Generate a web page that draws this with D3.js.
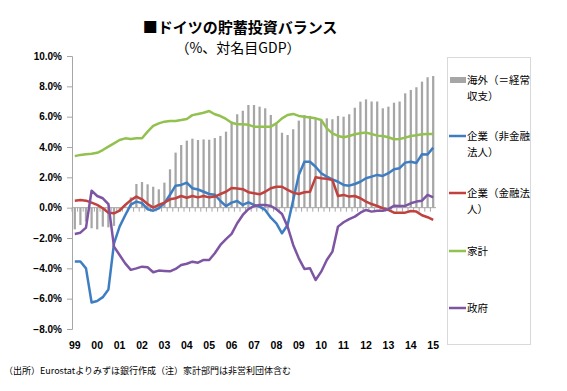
<!DOCTYPE html>
<html>
<head>
<meta charset="utf-8">
<script src="https://cdn.jsdelivr.net/npm/d3@7"></script>
<style>
  body { margin: 0; background: #fff; }
  text { font-family: "Noto Sans CJK JP", sans-serif; }
</style>
</head>
<body>
<div id="chart"></div>
<script>
// quarterly, 1999Q1 - 2015Q1, % of nominal GDP
const years = ["99", "00", "01", "02", "03", "04", "05", "06", "07", "08", "09", "10", "11", "12", "13", "14", "15"];
const yTicks = [-8, -6, -4, -2, 0, 2, 4, 6, 8, 10];

const external = [
  -1.43, -1.14, -0.92, -1.36, -1.43, -1.25, -1.3, -1.2, -0.26, 0.1,
  0.68, 1.56, 1.69, 1.54, 1.38, 1.21, 1.65, 2.53, 3.63, 4.13,
  4.42, 4.55, 4.46, 4.5, 4.48, 4.59, 4.73, 5.01, 5.67, 6.16,
  6.39, 6.77, 6.77, 6.66, 6.55, 6.11, 5.56, 4.94, 4.79, 5.17,
  5.74, 6.11, 6.05, 5.89, 5.83, 5.89, 5.83, 6.05, 6.0, 6.16,
  6.59, 6.99, 7.14, 7.0, 7.0, 6.55, 6.66, 6.92, 7.0, 7.54,
  7.76, 7.94, 8.31, 8.6, 8.68
];
const nonFinancial = [
  -3.55, -3.55, -4.0, -6.25, -6.15, -5.9, -5.4, -2.35, -1.25, -0.5,
  0.2, 0.4, 0.3, -0.1, -0.2, -0.05, 0.3, 0.85, 1.45, 1.5,
  1.65, 1.28, 1.2, 1.05, 0.9, 0.85, 0.44, 0.1, 0.33, 0.44,
  0.18, 0.35, 0.18, 0.07, -0.15, -0.66, -1.03, -1.69, -1.14, 0.5,
  2.15, 3.03, 3.03, 2.7, 2.27, 2.05, 1.87, 1.71, 1.5, 1.45,
  1.56, 1.71, 1.94, 2.05, 2.16, 2.09, 2.27, 2.53, 2.6, 2.97,
  3.03, 2.95, 3.52, 3.5, 3.96
];
const financial = [
  0.46, 0.5, 0.46, 0.33, 0.18, -0.04, -0.33, -0.37, -0.2, 0.18,
  0.5, 0.73, 0.55, 0.24, 0.0, 0.18, 0.33, 0.55, 0.62, 0.77,
  0.65, 0.77, 0.68, 0.77, 0.68, 0.73, 0.9, 1.05, 1.3, 1.26,
  1.22, 1.02, 0.95, 0.88, 1.05, 1.28, 1.38, 1.38, 1.17, 0.99,
  0.9, 1.02, 1.05, 2.0, 1.94, 1.9, 1.82, 0.77, 0.84, 0.73,
  0.77, 0.62, 0.4, 0.24, 0.11, -0.04, -0.15, -0.33, -0.33, -0.33,
  -0.22, -0.26, -0.5, -0.63, -0.81
];
const households = [
  3.4, 3.48, 3.52, 3.55, 3.62, 3.8, 4.02, 4.24, 4.46, 4.57,
  4.53, 4.57, 4.58, 5.01, 5.39, 5.56, 5.67, 5.72, 5.72, 5.78,
  5.85, 6.1, 6.18, 6.26, 6.37, 6.16, 6.04, 5.85, 5.6, 5.5,
  5.5, 5.46, 5.34, 5.34, 5.34, 5.34, 5.56, 5.89, 6.11, 6.18,
  6.05, 6.0, 5.95, 5.89, 5.78, 5.23, 4.9, 4.73, 4.64, 4.73,
  4.84, 4.9, 4.95, 4.86, 4.75, 4.73, 4.64, 4.51, 4.53, 4.62,
  4.73, 4.77, 4.84, 4.85, 4.85
];
const government = [
  -1.73, -1.65, -1.32, 1.12, 0.77, 0.62, 0.24, -2.57, -3.12, -3.67,
  -4.1, -4.0, -3.89, -3.93, -4.26, -4.15, -4.17, -4.2, -4.04, -3.78,
  -3.7, -3.56, -3.63, -3.45, -3.45, -3.01, -2.46, -2.08, -1.73, -1.03,
  -0.48, -0.1, 0.11, 0.18, 0.18, 0.11, -0.1, -0.42, -1.25, -2.46,
  -3.34, -4.04, -4.0, -4.77, -4.22, -3.45, -2.9, -1.25, -0.96, -0.75,
  -0.59, -0.33, -0.15, -0.26, -0.2, -0.2, -0.1, 0.13, 0.11, 0.11,
  0.29, 0.4, 0.46, 0.84, 0.68
];

const quarters = [];
years.forEach(y => ["Q1", "Q2", "Q3", "Q4"].forEach(q => quarters.push(y + q)));
quarters.length = external.length;

const lines = [
  { name: ["企業（非金融", "法人）"], values: nonFinancial, color: "#3f7dc3" },
  { name: ["企業（金融法", "人）"], values: financial, color: "#c0413d" },
  { name: ["家計"], values: households, color: "#92c150" },
  { name: ["政府"], values: government, color: "#7d55a3" }
];

const width = 567, height = 391;
const plot = { left: 72, right: 436, top: 56, bottom: 329 };

const svg = d3.select("#chart").append("svg")
  .attr("width", width)
  .attr("height", height);

const x = d3.scaleBand().domain(quarters).range([plot.left, plot.right]).paddingInner(0.6).paddingOuter(0.3);
const y = d3.scaleLinear().domain([-8, 10]).range([plot.bottom, plot.top]);
const cx = q => x(q) + x.bandwidth() / 2;

// title
svg.append("text")
  .attr("x", 240).attr("y", 33)
  .attr("text-anchor", "middle")
  .style("font-size", "15px")
  .style("font-weight", "bold")
  .text("■ドイツの貯蓄投資バランス");
svg.append("text")
  .attr("x", 238).attr("y", 53)
  .attr("text-anchor", "middle")
  .style("font-size", "14px")
  .text("（%、対名目GDP）");

// y axis
const yAxis = svg.append("g")
  .attr("transform", `translate(${plot.left},0)`)
  .call(d3.axisLeft(y).tickValues(yTicks).tickSize(5).tickPadding(5)
    .tickFormat(d => d3.format(".1f")(d) + "%"));
yAxis.select(".domain").attr("stroke", "#a6a6a6");
yAxis.selectAll(".tick line").attr("stroke", "#a6a6a6");
yAxis.selectAll("text")
  .style("font-family", "'Liberation Sans', sans-serif")
  .style("font-size", "10px")
  .style("font-weight", "bold")
  .attr("fill", "#000");

// bars
svg.selectAll(".bar")
  .data(external)
  .enter()
  .append("rect")
  .attr("class", "bar")
  .attr("x", (d, i) => x(quarters[i]))
  .attr("width", x.bandwidth())
  .attr("y", d => y(Math.max(0, d)))
  .attr("height", d => Math.abs(y(d) - y(0)))
  .attr("fill", "#a6a6a6");

// zero line with category ticks
const zero = svg.append("g").attr("transform", `translate(0,${y(0)})`);
zero.append("line")
  .attr("x1", plot.left).attr("x2", plot.right)
  .attr("stroke", "#a6a6a6");
zero.selectAll(".ctick")
  .data(quarters)
  .enter()
  .append("line")
  .attr("x1", q => x(q) - x.step() * 0.3)
  .attr("x2", q => x(q) - x.step() * 0.3)
  .attr("y1", 0).attr("y2", 4)
  .attr("stroke", "#a6a6a6");

// year labels
svg.selectAll(".year")
  .data(years)
  .enter()
  .append("text")
  .attr("class", "year")
  .attr("x", (d, i) => cx(quarters[i * 4]))
  .attr("y", 349)
  .attr("text-anchor", "middle")
  .style("font-family", "'Liberation Sans', sans-serif")
  .style("font-size", "10.5px")
  .style("font-weight", "bold")
  .text(d => d);

// lines
const line = d3.line()
  .x((d, i) => cx(quarters[i]))
  .y(d => y(d));

svg.selectAll(".series")
  .data(lines)
  .enter()
  .append("path")
  .attr("class", "series")
  .attr("d", d => line(d.values))
  .attr("fill", "none")
  .attr("stroke", d => d.color)
  .attr("stroke-width", 2.5)
  .attr("stroke-linejoin", "round");

// legend
const legend = svg.append("g");
legend.append("rect")
  .attr("x", 447.5).attr("y", 57.5)
  .attr("width", 83).attr("height", 287)
  .attr("fill", "#fff")
  .attr("stroke", "#d9d9d9");

const legendItems = [
  { name: ["海外（＝経常", "収支）"], color: "#a6a6a6", bar: true, y: 80 }
].concat(lines.map((d, i) => ({ name: d.name, color: d.color, bar: false, y: [136, 193, 251, 308][i] })));

legendItems.forEach(d => {
  if (d.bar) {
    legend.append("rect")
      .attr("x", 450).attr("y", d.y - 3)
      .attr("width", 16).attr("height", 6)
      .attr("fill", d.color);
  } else {
    legend.append("line")
      .attr("x1", 449).attr("x2", 466)
      .attr("y1", d.y).attr("y2", d.y)
      .attr("stroke", d.color)
      .attr("stroke-width", 2.5);
  }
  d.name.forEach((s, j) => {
    legend.append("text")
      .attr("x", 467)
      .attr("y", d.y + 4 + j * 15.5)
      .style("font-size", "10.5px")
      .text(s);
  });
});

// source note
svg.append("text")
  .attr("x", 4).attr("y", 374)
  .style("font-size", "9px")
  .text("（出所）Eurostatよりみずほ銀行作成（注）家計部門は非営利団体含む");
</script>
</body>
</html>
